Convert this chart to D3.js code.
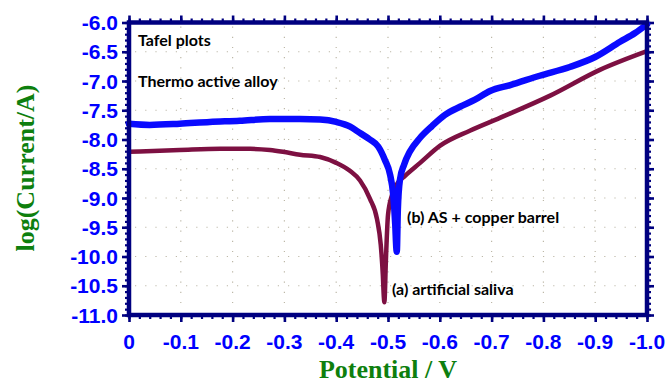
<!DOCTYPE html>
<html>
<head>
<meta charset="utf-8">
<script src="https://cdn.jsdelivr.net/npm/d3@7"></script>
<style>
  body { margin: 0; background: #fff; }
  #chart { width: 665px; height: 383px; }
</style>
</head>
<body>
<div id="chart"></div>
<script>
// Tick labels
const xTicks = [0, -0.1, -0.2, -0.3, -0.4, -0.5, -0.6, -0.7, -0.8, -0.9, -1.0];
const xTickLabels = ["0", "-0.1", "-0.2", "-0.3", "-0.4", "-0.5", "-0.6", "-0.7", "-0.8", "-0.9", "-1.0"];
const yTicks = [-6.0, -6.5, -7.0, -7.5, -8.0, -8.5, -9.0, -9.5, -10.0, -10.5, -11.0];
const yTickLabels = ["-6.0", "-6.5", "-7.0", "-7.5", "-8.0", "-8.5", "-9.0", "-9.5", "-10.0", "-10.5", "-11.0"];

// (a) artificial saliva  [potential V, log I]
const salivaE = [0, -0.098, -0.176, -0.234, -0.272, -0.297, -0.33, -0.369, -0.40, -0.427, -0.446, -0.465, -0.479, -0.486, -0.490, -0.492, -0.493,
  -0.496, -0.50, -0.508, -0.519, -0.533, -0.562, -0.60, -0.658, -0.716, -0.813, -0.909, -1.0];
const salivaLogI = [-8.21, -8.18, -8.16, -8.16, -8.18, -8.21, -8.26, -8.30, -8.40, -8.54, -8.70, -9.01, -9.37, -9.80, -10.31, -10.70, -10.78,
  -10.05, -9.29, -8.94, -8.74, -8.62, -8.40, -8.11, -7.85, -7.63, -7.25, -6.81, -6.49];

// (b) AS + copper barrel
const copperE = [0, -0.04, -0.098, -0.156, -0.214, -0.272, -0.33, -0.369, -0.40, -0.427, -0.446, -0.465, -0.481, -0.494, -0.504, -0.510, -0.514, -0.516, -0.517,
  -0.519, -0.523, -0.531, -0.542, -0.562, -0.585, -0.61, -0.639, -0.668, -0.697, -0.736, -0.793, -0.851, -0.90, -0.948, -0.977, -1.0];
const copperLogI = [-7.73, -7.75, -7.73, -7.70, -7.68, -7.65, -7.65, -7.66, -7.70, -7.78, -7.89, -8.00, -8.12, -8.35, -8.60, -8.94, -9.46, -9.85, -9.92,
  -9.20, -8.69, -8.43, -8.21, -7.97, -7.77, -7.58, -7.44, -7.32, -7.17, -7.07, -6.91, -6.76, -6.59, -6.33, -6.18, -6.03];

const width = 665, height = 383;
const plot = { left: 129, right: 647, top: 22.5, bottom: 315 };
const frameColor = "#000080";

const svg = d3.select("#chart").append("svg")
  .attr("width", width)
  .attr("height", height)
  .style("font-family", "'Liberation Sans', Arial, sans-serif");

const x = d3.scaleLinear().domain([0, -1]).range([plot.left, plot.right]);
const y = d3.scaleLinear().domain([-11, -6]).range([plot.bottom, plot.top]);

// Dotted grid
const grid = svg.append("g").attr("stroke", "#bdb8a8").attr("stroke-width", 1.2).attr("stroke-dasharray", "1.2,9");
grid.selectAll(".gx").data(xTicks.slice(1, -1)).enter().append("line")
  .attr("x1", d => x(d)).attr("x2", d => x(d))
  .attr("y1", plot.top + 4).attr("y2", plot.bottom - 3);
grid.selectAll(".gy").data(yTicks.slice(1, -1)).enter().append("line")
  .attr("y1", d => y(d)).attr("y2", d => y(d))
  .attr("x1", plot.left + 6).attr("x2", plot.right - 4);

// Minor ticks every 0.02 V / 0.1 decade
const xMinor = d3.range(0, 51).map(i => -i * 0.02);
const yMinor = d3.range(0, 51).map(i => -6 - i * 0.1);

// minor + major ticks on all four sides
function ticksFor(axisFn, scale, translate, minor, major) {
  const g1 = svg.append("g").attr("transform", translate)
    .call(axisFn(scale).tickValues(minor).tickSize(4).tickFormat(""));
  g1.select(".domain").remove();
  g1.selectAll("line").attr("stroke", frameColor).attr("stroke-width", 2.2);
  const g2 = svg.append("g").attr("transform", translate)
    .call(axisFn(scale).tickValues(major).tickSize(7).tickFormat(""));
  g2.select(".domain").remove();
  g2.selectAll("line").attr("stroke", frameColor).attr("stroke-width", 2.6);
}
ticksFor(d3.axisBottom, x, `translate(0,${plot.bottom})`, xMinor, xTicks);
ticksFor(d3.axisTop, x, `translate(0,${plot.top})`, xMinor, xTicks);
ticksFor(d3.axisLeft, y, `translate(${plot.left},0)`, yMinor, yTicks);
ticksFor(d3.axisRight, y, `translate(${plot.right},0)`, yMinor, yTicks);

// Curves
const line = d3.line().x(d => x(d[0])).y(d => y(d[1])).curve(d3.curveMonotoneX);
svg.append("path")
  .datum(salivaE.map((e, i) => [e, salivaLogI[i]]))
  .attr("d", line).attr("fill", "none")
  .attr("stroke", "#7d1042").attr("stroke-width", 4.5)
  .attr("stroke-linejoin", "round").attr("stroke-linecap", "round");
svg.append("path")
  .datum(copperE.map((e, i) => [e, copperLogI[i]]))
  .attr("d", line).attr("fill", "none")
  .attr("stroke", "#0a0aff").attr("stroke-width", 6.5)
  .attr("stroke-linejoin", "round").attr("stroke-linecap", "round");

// Frame
svg.append("rect")
  .attr("x", plot.left).attr("y", plot.top)
  .attr("width", plot.right - plot.left).attr("height", plot.bottom - plot.top)
  .attr("fill", "none").attr("stroke", frameColor).attr("stroke-width", 4.5);

// Tick labels
svg.append("g").selectAll("text").data(xTicks).enter().append("text")
  .attr("x", d => x(d)).attr("y", 349)
  .attr("text-anchor", "middle")
  .attr("font-size", 21).attr("font-weight", "bold").attr("fill", "#0000ff")
  .text((d, i) => xTickLabels[i]);
svg.append("g").selectAll("text").data(yTicks).enter().append("text")
  .attr("x", 118).attr("y", d => y(d) + 7.5)
  .attr("text-anchor", "end")
  .attr("font-size", 21).attr("font-weight", "bold").attr("fill", "#0000ff")
  .text((d, i) => yTickLabels[i]);

// Axis titles
svg.append("text")
  .attr("x", (plot.left + plot.right) / 2).attr("y", 378)
  .attr("text-anchor", "middle")
  .style("font-family", "'Liberation Serif', 'Times New Roman', serif")
  .attr("font-size", 26).attr("font-weight", "bold").attr("fill", "#0e7f0e")
  .text("Potential / V");
svg.append("text")
  .attr("transform", "translate(34,168) rotate(-90)")
  .attr("text-anchor", "middle")
  .style("font-family", "'Liberation Serif', 'Times New Roman', serif")
  .attr("font-size", 26).attr("font-weight", "bold").attr("fill", "#0e7f0e")
  .text("log(Current/A)");

// Annotations
const notes = svg.append("g")
  .style("font-family", "Lato, 'Open Sans', sans-serif")
  .attr("font-weight", "bold").attr("font-size", 16).attr("fill", "#000");
notes.append("text").attr("x", 138).attr("y", 46).text("Tafel plots");
notes.append("text").attr("x", 138).attr("y", 87).text("Thermo active alloy");
notes.append("text").attr("x", 407).attr("y", 223).text("(b) AS + copper barrel");
notes.append("text").attr("x", 392).attr("y", 295).text("(a) artificial saliva");
</script>
</body>
</html>
